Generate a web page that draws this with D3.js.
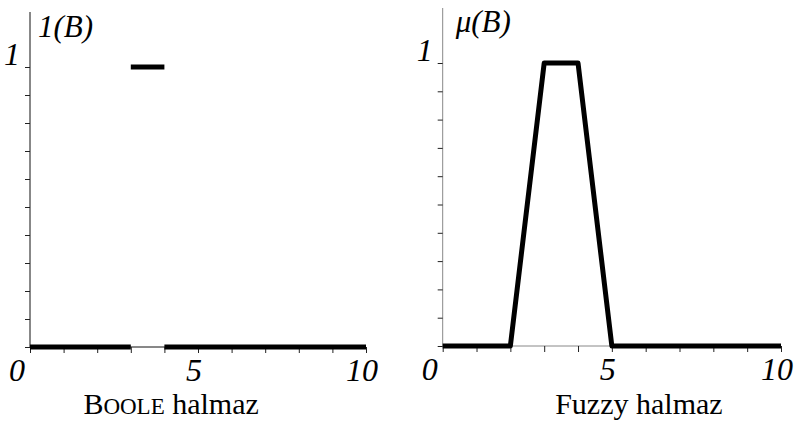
<!DOCTYPE html>
<html>
<head>
<meta charset="utf-8">
<script src="https://cdn.jsdelivr.net/npm/d3@7"></script>
<style>
  html, body { margin: 0; padding: 0; background: #fff; }
  svg { display: block; }
  svg text { font-family: "Liberation Serif", Tinos, "Times New Roman", Times, "DejaVu Serif", serif; fill: #000; }
</style>
</head>
<body>
<svg id="chart" width="798" height="425"></svg>
<script>
// ---- data ----
const xTicks = [0, 1, 2, 3, 4, 5, 6, 7, 8, 9, 10];
const xTickLabels = [0, 5, 10];
const yTicks = [0, 0.1, 0.2, 0.3, 0.4, 0.5, 0.6, 0.7, 0.8, 0.9, 1];
const yTickLabels = [1];

// Boole set: piecewise constant segments
const booleStart = [0, 3, 4];
const booleEnd   = [3, 4, 10];
const booleValue = [0, 1, 0];

// Fuzzy set: trapezoid membership
const fuzzyX  = [0, 2, 3, 4, 5, 10];
const fuzzyMu = [0, 0, 1, 1, 0, 0];

const FONT = '"Liberation Serif", Tinos, "Times New Roman", Times, "DejaVu Serif", serif';
const svg = d3.select("#chart");

function panel(opts) {
  const x = d3.scaleLinear().domain([0, 10]).range([opts.x0, opts.x1]);
  const y = d3.scaleLinear().domain([0, 1]).range([opts.y0, opts.y1]);
  const g = svg.append("g");

  g.append("line")
    .attr("x1", x(0)).attr("x2", x(0))
    .attr("y1", y(0)).attr("y2", opts.yTop)
    .attr("stroke", opts.axisColor).attr("stroke-width", 1);
  g.append("line")
    .attr("x1", x(0)).attr("x2", x(10))
    .attr("y1", y(0)).attr("y2", y(0))
    .attr("stroke", opts.axisColor).attr("stroke-width", 1);

  const ya = g.append("g").attr("transform", `translate(${x(0)},0)`)
    .call(d3.axisLeft(y).tickValues(yTicks).tickSize(5).tickFormat(""));
  ya.select(".domain").remove();
  ya.selectAll(".tick line").attr("stroke", "#222");

  const xa = g.append("g").attr("transform", `translate(0,${y(0)})`)
    .call(d3.axisBottom(x).tickValues(xTicks).tickSize(6).tickFormat(""));
  xa.select(".domain").remove();
  xa.selectAll(".tick line").attr("stroke", "#222");

  g.selectAll(".xl").data(xTickLabels).join("text")
    .attr("class", "xl")
    .attr("x", d => x(d) + (d === 0 ? -13 : -4))
    .attr("y", y(0) + 34)
    .attr("text-anchor", "middle")
    .attr("font-family", FONT)
    .style("font-size", "32px").style("font-style", "italic")
    .text(d => d);

  g.selectAll(".yl").data(yTickLabels).join("text")
    .attr("class", "yl")
    .attr("x", x(0) - 18)
    .attr("y", y(1) - 2)
    .attr("text-anchor", "middle")
    .attr("font-family", FONT)
    .style("font-size", "32px").style("font-style", "italic")
    .text(d => d);

  return { g, x, y };
}

// ---- Left panel: Boole ----
const L = panel({ x0: 30, x1: 366, y0: 347, y1: 67, yTop: 12, axisColor: "#111" });
L.g.selectAll(".seg").data(booleValue).join("line")
  .attr("class", "seg")
  .attr("x1", (d, i) => L.x(booleStart[i]))
  .attr("x2", (d, i) => L.x(booleEnd[i]))
  .attr("y1", d => L.y(d))
  .attr("y2", d => L.y(d))
  .attr("stroke", "#000").attr("stroke-width", 5)
  .attr("stroke-linecap", "butt");

L.g.append("text")
  .attr("x", L.x(0) + 8).attr("y", 37)
  .attr("font-family", FONT)
  .style("font-size", "31px").style("font-style", "italic")
  .text("1(B)");

const bt = L.g.append("text")
  .attr("x", L.x(4.2)).attr("y", 414)
  .attr("text-anchor", "middle")
  .attr("font-family", FONT)
  .style("font-size", "30px");
bt.append("tspan").text("B");
bt.append("tspan").style("font-size", "23px").text("OOLE");
bt.append("tspan").text(" halmaz");

// ---- Right panel: Fuzzy ----
const R = panel({ x0: 442.7, x1: 781, y0: 346, y1: 63, yTop: 8, axisColor: "#888" });
const line = d3.line().x((d, i) => R.x(fuzzyX[i])).y(d => R.y(d));
R.g.append("path")
  .datum(fuzzyMu)
  .attr("d", line)
  .attr("fill", "none")
  .attr("stroke", "#000").attr("stroke-width", 5)
  .attr("stroke-linejoin", "round");

R.g.append("text")
  .attr("x", R.x(0) + 13).attr("y", 32)
  .attr("font-family", FONT)
  .style("font-size", "31px").style("font-style", "italic")
  .text("μ(B)");

R.g.append("text")
  .attr("x", R.x(5.8)).attr("y", 414)
  .attr("text-anchor", "middle")
  .attr("font-family", FONT)
  .style("font-size", "30px")
  .text("Fuzzy halmaz");
</script>
</body>
</html>
